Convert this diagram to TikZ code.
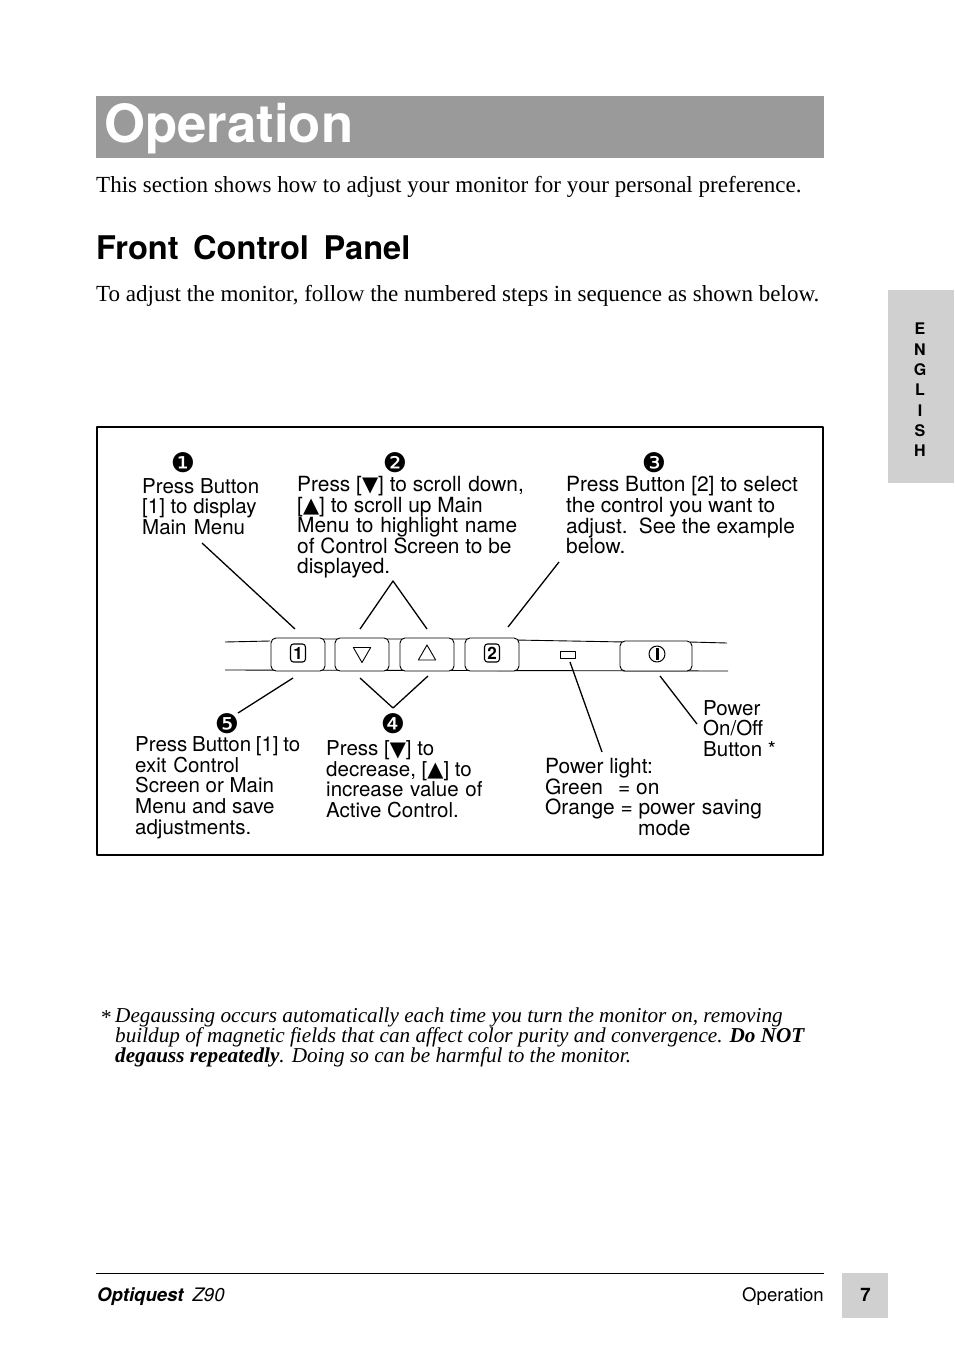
\documentclass[tikz,border=0pt]{standalone}
\usepackage{fontspec}
\setmainfont{Liberation Serif}
\setsansfont{TeX Gyre Heros}
\newfontfamily\symfont{DejaVu Sans}
\usetikzlibrary{shapes.geometric}
\definecolor{titlegray}{HTML}{9B9A9A}
\definecolor{tabgray}{HTML}{D1D0D0}
\tikzset{
  bodytext/.style={inner sep=0pt, anchor=base west, font=\fontsize{23.05}{23}\selectfont},
  paneltext/.style={inner sep=0pt, anchor=north west, align=left, font=\sffamily\fontsize{20.5}{20.6}\selectfont},
  paneltextwide/.style={paneltext, font=\sffamily\fontsize{20.9}{20.6}\selectfont},
  stepmark/.style={inner sep=0pt, font=\symfont\fontsize{27}{27}\selectfont},
  panelbtn/.style={draw, rounded corners=5pt, line width=0.9pt, inner sep=0pt, minimum height=33pt, fill=white},
  numbox/.style={draw, rounded corners=3pt, line width=1.1pt, inner sep=0pt, minimum width=15pt, minimum height=18pt, font=\sffamily\bfseries\fontsize{17}{17}\selectfont},
  tri/.style={draw, regular polygon, regular polygon sides=3, inner sep=0pt, minimum size=20pt, line width=0.9pt},
  leader/.style={line width=1.3pt}
}
\newcommand{\dn}{\raisebox{-0.5pt}{\symfont\fontsize{21}{21}\selectfont ▼}}
\newcommand{\up}{\raisebox{-0.5pt}{\symfont\fontsize{21}{21}\selectfont ▲}}
\begin{document}
\begin{tikzpicture}[x=1pt, y=-1pt, line join=round]
      \useasboundingbox (0,0) rectangle (954,1352);

      % Title and text above the box
      \fill[titlegray] (96,96) rectangle (824,158);
      \node[inner sep=0pt, anchor=base west, text=white, font=\sffamily\bfseries\fontsize{52.7}{55}\selectfont] (title) at (104,142) {Operation};
      \node[bodytext] (intro) at (96,192) {This section shows how to adjust your monitor for your personal preference.};
      \node[inner sep=0pt, anchor=base west, font=\sffamily\bfseries\fontsize{32.6}{32}\selectfont] (heading) at (96,259) {Front\, Control\, Panel};
      \node[bodytext] (follow) at (96,301) {To adjust the monitor, follow the numbered steps in sequence as shown below.};

      % Side tab
      \fill[tabgray] (888,290) rectangle (954,483);
      \node[inner sep=0pt, align=center, font=\sffamily\bfseries\fontsize{16}{20.3}\selectfont] (tab) at (920,390) {E\\N\\G\\L\\I\\S\\H};

      % Outer box
      \draw[line width=2pt] (97,427) rectangle (823,855);

      % Panel edges
      \coordinate (TL) at (225,642);
      \coordinate (TR) at (727,643);
      \coordinate (BL) at (225,670);
      \coordinate (BR) at (728,671);
      \draw[line width=0.9pt] (TL)--(270,641) (320,639)--(340,639) (385,639)--(405,639) (450,639)--(470,639)
            (515,640)--(625,642) (690,642)--(TR);
      \draw[line width=0.9pt] (BL)--(BR);

      % Buttons
      \node[panelbtn, minimum width=54pt] (btnone) at (298,654.5) {};
      \node[panelbtn, minimum width=54pt] (btndown) at (362,654.5) {};
      \node[panelbtn, minimum width=54pt] (btnup) at (427,654.5) {};
      \node[panelbtn, minimum width=54pt] (btntwo) at (492,654.5) {};
      \node[panelbtn, minimum width=72pt, minimum height=30pt] (btnpower) at (656,656) {};
      \node[numbox] (labelone) at (298,653) {1};
      \node[numbox] (labeltwo) at (492,653) {2};
      \node[tri, shape border rotate=180] (tridown) at (362,652.5) {};
      \node[tri] (triup) at (427,655) {};
      \node[draw, circle, line width=1pt, inner sep=0pt, minimum size=16pt] (powerring) at (657,654) {};
      \node[draw, fill=black, inner sep=0pt, minimum width=2.5pt, minimum height=11pt] (powerbar) at (657,654) {};
      \node[draw, line width=0.9pt, inner sep=0pt, minimum width=15pt, minimum height=7pt] (led) at (567.5,654.5) {};

      % Step marks
      \node[stepmark] (markone) at (183,462.5) {❶};
      \node[stepmark] (marktwo) at (395,462.5) {❷};
      \node[stepmark] (markthree) at (654,462.5) {❸};
      \node[stepmark] (markfour) at (393,723.5) {❹};
      \node[stepmark] (markfive) at (227,723.5) {❺};

      % Step texts
      \node[paneltext] (stepone) at (142,478) {Press Button\\{}[1] to display\\Main\kern1.5pt\ Menu};
      \node[paneltextwide] (steptwo) at (297,476) {Press [\dn] to scroll\kern1pt\ down,\\{}[\up] to scroll up Main\\Menu\kern1pt\ to\kern1pt\ highlight\kern1pt\ name\\of Control Screen to be\\displayed.};
      \node[paneltextwide] (stepthree) at (566,476.5) {Press Button [2] to select\\the control you want to\\adjust.\, See the example\\below.};
      \node[paneltext] (stepfive) at (135,736.5) {Press\kern-1pt\ Button\kern-1pt\ [1]\kern-1pt\ to\\exit\kern1pt\ Control\\Screen or Main\\Menu and save\\adjustments.};
      \node[paneltext] (stepfour) at (326,740.5) {Press [\dn] to\\decrease, [\up] to\\increase\kern1pt\ value\kern1pt\ of\\Active Control.};
      \node[paneltextwide] (powerlight) at (545,758) {Power light:\\Green\ \ \,= on\\Orange = power\kern1pt\ saving\\\hspace*{93pt}mode};
      \node[paneltext] (poweronoff) at (703,700) {Power\\On/Off\\Button *};

      % Leaders
      \coordinate (A) at (202,543);
      \coordinate (B) at (295,629);
      \coordinate (C) at (360,629);
      \coordinate (D) at (393,581);
      \coordinate (E) at (427,629);
      \coordinate (F) at (559,562);
      \coordinate (G) at (508,627);
      \coordinate (H) at (293,678);
      \coordinate (I) at (238,713);
      \coordinate (J) at (360,678);
      \coordinate (K) at (393,708);
      \coordinate (L) at (428,676);
      \coordinate (M) at (570,662);
      \coordinate (N) at (602,752);
      \coordinate (O) at (660,676);
      \coordinate (P) at (697,724);
      \draw[leader] (A)--(B);
      \draw[leader] (C)--(D)--(E);
      \draw[leader] (F)--(G);
      \draw[leader] (H)--(I);
      \draw[leader] (J)--(K)--(L);
      \draw[leader] (M)--(N);
      \draw[leader] (O)--(P);

      % Footnote
      \node[inner sep=0pt, anchor=base west, font=\itshape\fontsize{21.2}{21}\selectfont] (star) at (100,1024) {*};
      \node[inner sep=0pt, anchor=north west, align=left, font=\itshape\fontsize{21.2}{20}\selectfont] (footnote) at (115,1008) {Degaussing occurs automatically each time you turn the monitor on, removing\\buildup of magnetic fields that can affect color purity and convergence. \textbf{Do NOT}\\\textbf{degauss repeatedly}. Doing so can be harmful to the monitor.};

      % Footer
      \draw[line width=0.9pt] (96,1273)--(824,1273);
      \node[inner sep=0pt, anchor=base west, font=\sffamily\fontsize{18.6}{19}\selectfont] (product) at (97,1301) {\textbf{\textit{Optiquest}}\, \textit{Z90}};
      \node[inner sep=0pt, anchor=base east, font=\sffamily\fontsize{18.6}{19}\selectfont] (section) at (824,1301) {Operation};
      \fill[tabgray] (842,1273) rectangle (888,1318);
      \node[inner sep=0pt, font=\sffamily\bfseries\fontsize{18.6}{19}\selectfont] (pagenum) at (865.5,1295) {7};
\end{tikzpicture}
\end{document}
